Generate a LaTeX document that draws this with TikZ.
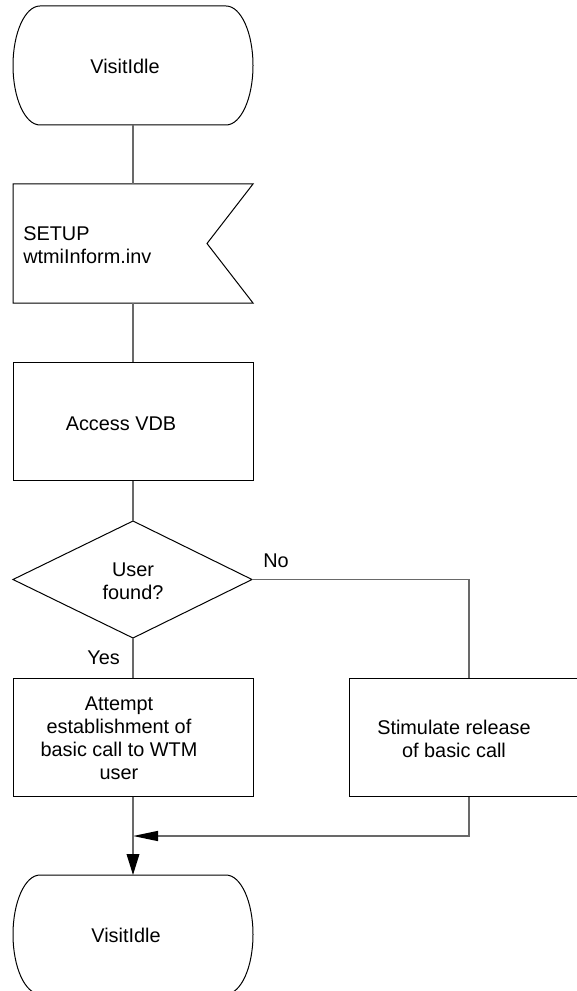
\documentclass[tikz,border=0pt]{standalone}
\usepackage{fontspec}
\setmainfont{Liberation Sans}
\usepackage{tikz}
\usetikzlibrary{arrows.meta}

\tikzset{
  outline/.style={draw=black, line width=0.75},
  procbox/.style={outline, minimum width=180pt, minimum height=88.5pt, inner sep=0pt},
  conn/.style={draw={rgb,255:red,105;green,105;blue,105}, line width=1.1},
  txt/.style={inner sep=0.75pt, align=center, font=\fontsize{14.9}{17.25}\selectfont},
}

\begin{document}
\begin{tikzpicture}[x=0.75pt,y=0.75pt,yscale=-1,xscale=1]
        \path[use as bounding box] (0,0) rectangle (577,991);
        \clip (0,0) rectangle (577,991);

        %Shape: Terminal [id:idleA]
        \draw[outline] (40,6) -- (226,6) arc[start angle=-90, end angle=90, x radius=27, y radius=59.5] -- (40,125) arc[start angle=90, end angle=270, x radius=27, y radius=59.5] -- cycle ;
        \coordinate (idleA) at (133,125);
        %Shape: Input signal [id:setup]
        \draw[outline] (13,184) -- (253,184) -- (207,243.5) -- (253,303) -- (13,303) -- cycle ;
        \coordinate (setupN) at (133,184);
        \coordinate (setupS) at (133,303);
        %Shape: Rectangle [id:vdb]
        \node[procbox] (vdb) at (133,421) {};
        %Shape: Diamond [id:dec]
        \draw[outline] (133,521) -- (252,579.5) -- (133,638) -- (13,579.5) -- cycle ;
        \coordinate (decN) at (133,521);
        \coordinate (decE) at (252,579.5);
        \coordinate (decS) at (133,638);
        %Shape: Rectangle [id:attempt]
        \node[procbox] (attempt) at (133,737) {};
        %Shape: Rectangle [id:release]
        \node[procbox] (release) at (469,737) {};
        %Shape: Terminal [id:idleB]
        \draw[outline] (40,875) -- (226,875) arc[start angle=-90, end angle=90, x radius=27, y radius=59.5] -- (40,994) arc[start angle=90, end angle=270, x radius=27, y radius=59.5] -- cycle ;
        \coordinate (idleB) at (133,875);
        \coordinate (merge) at (133,836);

        %Straight Lines
        \draw[conn] (idleA) -- (setupN) ;
        \draw[conn] (setupS) -- (vdb.north) ;
        \draw[conn] (vdb.south) -- (decN) ;
        \draw[conn] (decS) -- (attempt.north) ;
        \draw[conn] (decE) -| (release.north) ;
        \draw[conn, -{Triangle[length=18.75pt, width=7.5pt, fill=black, color=black]}] (release.south) |- (merge) ;
        \draw[conn, -{Triangle[length=15.75pt, width=9.5pt, fill=black, color=black]}] (attempt.south) -- (idleB) ;

        % Text Node
        \node[txt] (tIdleA) at (125,66) {VisitIdle};
        % Text Node
        \node[txt, anchor=west, align=left] (tSetup) at (22,245) {SETUP\\wtmiInform.inv};
        % Text Node
        \node[txt] (tVdb) at (121,424) {Access VDB};
        % Text Node
        \node[txt] (tDec) at (133,581) {User\\found?};
        % Text Node
        \node[txt] (tNo) at (276,561) {No};
        % Text Node
        \node[txt, anchor=east] (tYes) at (121,658) {Yes};
        % Text Node
        \node[txt] (tAttempt) at (119,738) {Attempt\\establishment of\\basic call to WTM\\user};
        % Text Node
        \node[txt] (tRelease) at (454,739) {Stimulate release\\of basic call};
        % Text Node
        \node[txt] (tIdleB) at (126,935) {VisitIdle};

\end{tikzpicture}
\end{document}
